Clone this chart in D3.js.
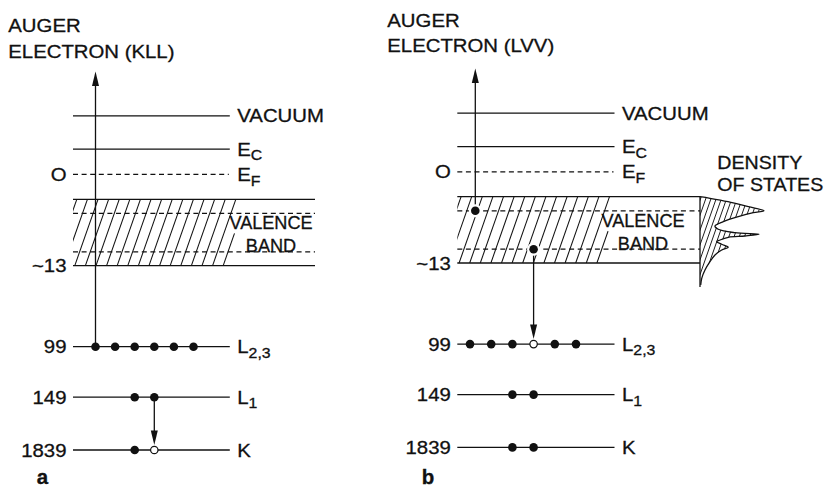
<!DOCTYPE html>
<html>
<head>
<meta charset="utf-8">
<script src="https://cdn.jsdelivr.net/npm/d3@7"></script>
<style>
  html, body { margin: 0; padding: 0; background: #fff; }
  svg { display: block; }
  text { font-family: "Liberation Sans", Arial, Helvetica, sans-serif; fill: #111; stroke: #111; stroke-width: 0.3px; }
</style>
</head>
<body>
<script>
// ---------------- data ----------------
const levelKeys    = ["VACUUM", "E_C", "E_F", "VB_TOP", "VB_1", "VB_2", "VB_BOTTOM", "L23", "L1", "K"];
const levelMain    = ["VACUUM", "E", "E", "", "", "", "", "L", "L", "K"];
const levelSub     = ["", "C", "F", "", "", "", "", "2,3", "1", ""];
const bindingLabel = ["", "", "O", "", "", "", "~13", "99", "149", "1839"];
const levelDashed  = [false, false, true, false, true, true, false, false, false, false];
const levelInBand  = [false, false, false, true, true, true, true, false, false, false];

// electron occupancy per slot (1 = electron, 0 = hole, null = none)
const occA = { L23: [1, 1, 1, 1, 1, 1], L1: [null, null, 1, 1, null, null], K: [null, null, 1, 0, null, null] };
const occB = { L23: [1, 1, 1, 0, 1, 1], L1: [null, null, 1, 1, null, null], K: [null, null, 1, 1, null, null] };
const valenceElectronsB = [{ level: "VB_1", slot: 0.25 }, { level: "VB_2", slot: 3 }];

// transitions: "up" = ejected Auger electron, "down" = filling transition
const transA = [{ type: "up", from: "L23", slot: 0 }, { type: "down", from: "L1", to: "K", slot: 3 }];
const transB = [{ type: "up", from: "VB_1", slot: 0.25 }, { type: "down", from: "VB_2", to: "L23", slot: 3 }];

const titleA = ["AUGER", "ELECTRON (KLL)"];
const titleB = ["AUGER", "ELECTRON (LVV)"];
const dosTitle = ["DENSITY", "OF STATES"];

// density of states (energy below band top in eV, density in arbitrary units)
const dosEnergy  = [0, 0.31, 0.98, 1.96, 2.75, 3.14, 3.92, 4.9, 5.75, 6.39, 7.06, 7.37, 7.71, 7.96, 8.49, 8.82, 9.33, 9.92, 10.45, 11.43, 12.75, 14.37, 16, 17.3];
const dosDensity = [0, 15.6, 43.8, 75.5, 100, 83.3, 59.8, 36.4, 23.4, 28.6, 54.7, 92.2, 70.3, 44.2, 31.3, 26.1, 33.9, 44.2, 33.9, 23.4, 15.6, 7.8, 2.7, 1.1];

// ---------------- layout ----------------
const W = 829, H = 486;
const svg = d3.select("body").append("svg").attr("width", W).attr("height", H);

const yLevel = d3.scaleOrdinal().domain(levelKeys)
  .range([115.8, 149.2, 174.4, 199.3, 213.4, 251.8, 265.6, 346.7, 397.2, 450]);

const FS = 18.5, SX = 1.1, STROKE = "#111", SW = 1.3;

const panels = [
  { id: "a", x0: 73, dy: 0, lineLen: 156.8, vbLen: 242, slots: [95.5, 193.5],
    occ: occA, vbe: [], trans: transA, title: titleA, titleX: 8.3, titleY: [31.7, 58.3],
    arrowTip: 71.5, valenceCx: 271, vbTextDy: 0,
    hatchClip: [[0, 0], [166, 0], [160, 14.7], [153, 30.7], [168, 36.7], [158, 66.3], [0, 66.3]],
    letter: "a", letterX: 36.7 },
  { id: "b", x0: 457.3, dy: -2.6, lineLen: 157.2, vbLen: 242.7, slots: [470, 576],
    occ: occB, vbe: valenceElectronsB, trans: transB, title: titleB, titleX: 387.3, titleY: [26.7, 51.7],
    arrowTip: 68.6, valenceCx: 643, vbTextDy: 1,
    hatchClip: [[0, 0], [159.5, 0], [154, 14.5], [142.5, 31], [157, 37], [149, 66.3], [0, 66.3]],
    letter: "b", letterX: 421.7, dos: true }
];

function label(g, x, y, main, sub, opts = {}) {
  const fs = opts.fs || FS, sx = opts.sx || SX;
  const t = g.append("text")
    .attr("transform", `translate(${x},${y}) scale(${sx},1)`)
    .attr("text-anchor", opts.anchor || "start")
    .attr("font-size", fs)
    .attr("font-weight", opts.bold ? "bold" : null);
  t.append("tspan").text(main);
  if (sub) t.append("tspan").attr("font-size", fs * 0.78).attr("dy", 4.5).text(sub);
  return t;
}

function arrowHead(g, x, tipY, dir) {
  // dir = -1 pointing up, +1 pointing down
  const len = 14.5, hw = 3.5;
  g.append("path")
    .attr("d", d3.line()([[x, tipY], [x - hw, tipY - dir * len], [x + hw, tipY - dir * len]]) + "Z")
    .attr("fill", STROKE).attr("stroke", "none");
}

panels.forEach(p => {
  const g = svg.append("g").attr("class", "panel-" + p.id);
  const y = k => yLevel(k) + p.dy;
  const xs = d3.scaleLinear().domain([0, 5]).range(p.slots);
  const vbTop = y("VB_TOP"), vbBot = y("VB_BOTTOM");

  // ---- hatching of valence band ----
  const clipId = "clip-" + p.id;
  g.append("clipPath").attr("id", clipId).append("polygon")
    .attr("points", p.hatchClip.map(([dx, dyy]) => [p.x0 + dx, vbTop + dyy].join(",")).join(" "));
  const slope = 0.35, hSpace = 10.6, bandH = vbBot - vbTop;
  const hatchXs = d3.range(p.x0 - 30, p.x0 + p.vbLen, hSpace);
  g.append("g").attr("clip-path", `url(#${clipId})`)
    .selectAll("line").data(hatchXs).join("line")
    .attr("x1", d => d).attr("y1", vbBot)
    .attr("x2", d => d + slope * bandH).attr("y2", vbTop)
    .attr("stroke", STROKE).attr("stroke-width", 1.05);

  // ---- density of states ----
  if (p.dos) {
    const xEdge = p.x0 + p.vbLen;
    const eScale = d3.scaleLinear().domain([0, 13]).range([vbTop, vbBot]);
    const dScale = d3.scaleLinear().domain([0, 100]).range([0, 64]);
    const pts = dosEnergy.map((e, i) => [xEdge + dScale(dosDensity[i]), eScale(e)]);
    pts.push([xEdge, eScale(dosEnergy[dosEnergy.length - 1])]);
    const dosPath = d3.line()(pts) + "Z";
    g.append("clipPath").attr("id", "clip-dos").append("path").attr("d", dosPath);
    const yEnd = eScale(17.3);
    const dh = yEnd - vbTop;
    g.append("g").attr("clip-path", "url(#clip-dos)")
      .selectAll("line").data(d3.range(xEdge - 40, xEdge + 80, 5.2)).join("line")
      .attr("x1", d => d).attr("y1", yEnd)
      .attr("x2", d => d + slope * dh).attr("y2", vbTop)
      .attr("stroke", STROKE).attr("stroke-width", 0.95);
    g.append("path").attr("d", d3.line().curve(d3.curveCatmullRom.alpha(0.5))(pts.slice(0, pts.length - 1)))
      .attr("fill", "none").attr("stroke", STROKE).attr("stroke-width", SW);
    g.append("line").attr("x1", xEdge).attr("x2", xEdge).attr("y1", vbTop).attr("y2", yEnd + 2)
      .attr("stroke", STROKE).attr("stroke-width", SW);
    label(g, 717.3, 169.3, dosTitle[0], "", { sx: 1.06 });
    label(g, 717.3, 191, dosTitle[1], "", { sx: 1.06 });
  }

  // ---- levels ----
  levelKeys.forEach((k, i) => {
    const yy = y(k);
    const len = levelInBand[i] ? p.vbLen : p.lineLen;
    g.append("line")
      .attr("x1", p.x0).attr("x2", p.x0 + len - (levelDashed[i] && !levelInBand[i] ? 1 : 0))
      .attr("y1", yy).attr("y2", yy)
      .attr("stroke", STROKE).attr("stroke-width", SW)
      .attr("stroke-dasharray", levelDashed[i] ? "5,3.6" : null);
    if (levelMain[i]) label(g, p.x0 + p.lineLen + 7.5, yy + 6.6, levelMain[i], levelSub[i]);
    if (bindingLabel[i]) label(g, p.x0 - 6.5, yy + 6.6, bindingLabel[i], "", { anchor: "end" });
  });

  // ---- valence band text ----
  label(g, p.valenceCx, 228.8 + p.dy + p.vbTextDy, "VALENCE", "", { anchor: "middle", sx: 0.98 });
  label(g, p.valenceCx, 252 + p.dy + p.vbTextDy, "BAND", "", { anchor: "middle", sx: 0.98 });

  // ---- titles and panel letter ----
  p.title.forEach((t, i) => label(g, p.titleX, p.titleY[i], t, "", { sx: 1.1 }));
  label(g, p.letterX, 483.5, p.letter, "", { bold: true, fs: 19.5, sx: 1.05 });

  // ---- transitions ----
  p.trans.forEach(t => {
    const x = xs(t.slot);
    if (t.type === "up") {
      g.append("line").attr("x1", x).attr("x2", x).attr("y1", y(t.from)).attr("y2", p.arrowTip + 10)
        .attr("stroke", STROKE).attr("stroke-width", SW);
      arrowHead(g, x, p.arrowTip, -1);
    } else {
      const tip = y(t.to) - 5;
      g.append("line").attr("x1", x).attr("x2", x).attr("y1", y(t.from)).attr("y2", tip - 10)
        .attr("stroke", STROKE).attr("stroke-width", SW);
      arrowHead(g, x, tip, 1);
    }
  });

  // ---- core electrons ----
  Object.entries(p.occ).forEach(([lvl, arr]) => {
    arr.forEach((o, s) => {
      if (o === null) return;
      g.append("circle").attr("cx", xs(s)).attr("cy", y(lvl))
        .attr("r", o ? 4.3 : 3.7)
        .attr("fill", o ? STROKE : "#fff")
        .attr("stroke", STROKE).attr("stroke-width", o ? 0 : 1.2);
    });
  });

  // ---- valence electrons ----
  p.vbe.forEach(e => {
    g.append("circle").attr("cx", xs(e.slot)).attr("cy", y(e.level)).attr("r", 6.5).attr("fill", "#fff");
    g.append("circle").attr("cx", xs(e.slot)).attr("cy", y(e.level)).attr("r", 4.3).attr("fill", STROKE);
  });
});
</script>
</body>
</html>
